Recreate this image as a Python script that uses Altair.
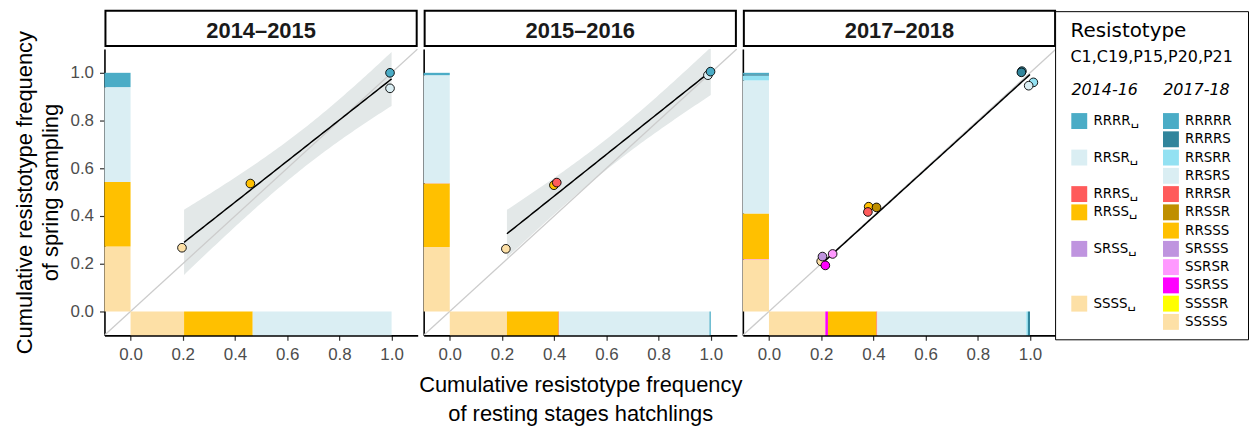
import altair as alt
import pandas as pd
import numpy as np

# ---------------- data ----------------
period_labels = ["2014–2015", "2015–2016", "2017–2018"]

# stack order from bottom (cumulative frequencies)
types_1415 = ["SSSS", "RRSS", "RRSR", "RRRR"]
hatch_cum_1415 = [0.205, 0.468, 1.0, 1.0]
spring_cum_1415 = [0.272, 0.543, 0.94, 1.0]
pt_types_1415 = ["SSSS", "RRSS", "RRSR", "RRRR"]
pt_x_1415 = [0.197, 0.459, 0.994, 0.994]
pt_y_1415 = [0.267, 0.536, 0.935, 1.0]

types_1516 = ["SSSS", "RRSS", "RRRS", "RRSR", "RRRR"]
hatch_cum_1516 = [0.219, 0.417, 0.419, 0.995, 1.0]
spring_cum_1516 = [0.27, 0.536, 0.537, 0.99, 1.0]
pt_types_1516 = ["SSSS", "RRSS", "RRRS", "RRSR", "RRRR"]
pt_x_1516 = [0.215, 0.399, 0.41, 0.989, 0.999]
pt_y_1516 = [0.2625, 0.529, 0.54, 0.99, 1.005]

types_1718 = ["SSSSS", "SSSSR", "SSRSS", "SSRSR", "SRSSS", "RRSSS",
              "RRSSR", "RRRSR", "RRSRS", "RRSRR", "RRRRS", "RRRRR"]
hatch_cum_1718 = [0.216, 0.216, 0.226, 0.226, 0.226, 0.412,
                  0.412, 0.415, 0.986, 0.992, 1.0, 1.0]
spring_cum_1718 = [0.219, 0.219, 0.22, 0.22, 0.22, 0.41,
                   0.41, 0.41, 0.968, 0.988, 0.994, 1.0]
pt_types_1718 = ["SSSSS", "SRSSS", "SSRSS", "SSRSR", "RRSSS", "RRSSR",
                 "RRRSR", "RRRRR", "RRRRS", "RRSRR", "RRSRS"]
pt_x_1718 = [0.200, 0.205, 0.216, 0.244, 0.382, 0.412,
             0.379, 0.969, 0.967, 1.013, 0.995]
pt_y_1718 = [0.210, 0.230, 0.193, 0.241, 0.439, 0.436,
             0.417, 1.007, 1.002, 0.960, 0.946]

legend_title = "Resistotype"
legend_subtitle = "C1,C19,P15,P20,P21"
legend_cols = ["2014-16", "2017-18"]
legend_left = ["RRRR", "RRSR", "RRRS", "RRSS", "SRSS", "SSSS"]
legend_left_row = ["RRRRR", "RRSRR", "RRRSR", "RRSSR", "SRSSS", "SSSSR"]
legend_right = ["RRRRR", "RRRRS", "RRSRR", "RRSRS", "RRRSR", "RRSSR",
                "RRSSS", "SRSSS", "SSRSR", "SSRSS", "SSSSR", "SSSSS"]

# ---------------- styles ----------------
color_map = {
    "RRRR": "#4BACC6", "RRSR": "#DAEEF3", "RRRS": "#FF5B5B", "RRSS": "#FFC000",
    "SRSS": "#BF94DF", "SSSS": "#FDE0A6",
    "RRRRR": "#4BACC6", "RRRRS": "#31859C", "RRSRR": "#93E1F2", "RRSRS": "#DAEEF3",
    "RRRSR": "#FF5B5B", "RRSSR": "#BF8F00", "RRSSS": "#FFC000", "SRSSS": "#BF94DF",
    "SSRSR": "#FF99FF", "SSRSS": "#FF00FF", "SSSSR": "#FFFF00", "SSSSS": "#FDE0A6",
}
c_domain = list(color_map.keys())
c_range = list(color_map.values())

T975 = {1: 12.706, 2: 4.303, 3: 3.182, 4: 2.776, 5: 2.571, 6: 2.447,
        7: 2.365, 8: 2.306, 9: 2.262, 10: 2.228, 11: 2.201, 12: 2.179}

AX = alt.Scale(domain=[-0.1, 1.1], nice=False, zero=False)
W, H = 315, 288
FONT = "Liberation Sans"
TICKS = [0, 0.2, 0.4, 0.6, 0.8, 1.0]


def fit_lm(xs, ys):
    x = np.array(xs, dtype=float)
    y = np.array(ys, dtype=float)
    n = len(x)
    b, a = np.polyfit(x, y, 1)
    grid = np.linspace(x.min(), x.max(), 80)
    pred = a + b * grid
    resid = y - (a + b * x)
    s = np.sqrt(np.sum(resid ** 2) / (n - 2))
    sxx = np.sum((x - x.mean()) ** 2)
    se = s * np.sqrt(1.0 / n + (grid - x.mean()) ** 2 / sxx)
    t = T975[n - 2]
    return pd.DataFrame({"x": grid, "fit": pred, "lo": pred - t * se, "hi": pred + t * se})


def panel(label, types, hcum, scum, ptypes, px, py, show_y, show_xtitle):
    h0 = [0.0] + hcum[:-1]
    s0 = [0.0] + scum[:-1]
    bars = pd.DataFrame({"type": types, "h0": h0, "h1": hcum, "s0": s0, "s1": scum})
    pts = pd.DataFrame({"type": ptypes, "x": px, "y": py})
    lm = fit_lm(hcum, scum)
    diag = pd.DataFrame({"x": [-0.1, 1.1], "y": [-0.1, 1.1]})
    strip = pd.DataFrame({"label": [label]})

    if show_y:
        yaxis = alt.Axis(values=TICKS, format=".1f",
                         title=["Cumulative resistotype frequency", "of spring sampling"],
                         titleLineHeight=26, titlePadding=8)
    else:
        yaxis = alt.Axis(labels=False, ticks=False, title=None)
    if show_xtitle:
        xaxis = alt.Axis(values=TICKS, format=".1f",
                         title=["Cumulative resistotype frequency", "of resting stages hatchlings"],
                         titleLineHeight=30, titlePadding=12)
    else:
        xaxis = alt.Axis(values=TICKS, format=".1f", title=None)

    color = alt.Color("type:N", scale=alt.Scale(domain=c_domain, range=c_range), legend=None)

    ribbon = alt.Chart(lm).mark_area(color="#E3E8E8", clip=True).encode(
        x=alt.X("x:Q", scale=AX, axis=xaxis),
        y=alt.Y("lo:Q", scale=AX, axis=yaxis),
        y2="hi:Q",
    )
    diag_l = alt.Chart(diag).mark_line(color="#CCCCCC", strokeWidth=1.3, clip=True).encode(
        x=alt.X("x:Q", scale=AX), y=alt.Y("y:Q", scale=AX))
    left_bar = alt.Chart(bars).mark_rect().encode(
        x=alt.datum(-0.1, scale=AX), x2=alt.datum(0),
        y=alt.Y("s0:Q", scale=AX), y2="s1:Q", color=color)
    bottom_bar = alt.Chart(bars).mark_rect().encode(
        y=alt.datum(-0.1, scale=AX), y2=alt.datum(0),
        x=alt.X("h0:Q", scale=AX), x2="h1:Q", color=color)
    line = alt.Chart(lm).mark_line(color="black", strokeWidth=1.5).encode(
        x=alt.X("x:Q", scale=AX), y=alt.Y("fit:Q", scale=AX))
    points = alt.Chart(pts).mark_circle(size=76, stroke="black", strokeWidth=0.9, opacity=1).encode(
        x=alt.X("x:Q", scale=AX), y=alt.Y("y:Q", scale=AX), color=color,
        order=alt.Order("idx:Q")).transform_window(idx="row_number()")
    strip_box = alt.Chart(strip).mark_rect(fill="white", stroke="black", strokeWidth=2).encode(
        x=alt.value(1), x2=alt.value(W - 1), y=alt.value(-38.5), y2=alt.value(-3))
    strip_txt = alt.Chart(strip).mark_text(font=FONT, fontSize=22, fontWeight="bold",
                                           color="#1A1A1A", baseline="alphabetic").encode(
        x=alt.value(W / 2), y=alt.value(-11), text="label:N")

    return alt.layer(ribbon, diag_l, left_bar, bottom_bar, line, points,
                     strip_box, strip_txt).properties(width=W, height=H)


p1 = panel(period_labels[0], types_1415, hatch_cum_1415, spring_cum_1415,
           pt_types_1415, pt_x_1415, pt_y_1415, True, False)
p2 = panel(period_labels[1], types_1516, hatch_cum_1516, spring_cum_1516,
           pt_types_1516, pt_x_1516, pt_y_1516, False, True)
p3 = panel(period_labels[2], types_1718, hatch_cum_1718, spring_cum_1718,
           pt_types_1718, pt_x_1718, pt_y_1718, False, False)

# ---------------- custom legend (coordinates relative to the plot-area top) ----------------
LW = 188
leg_items = pd.DataFrame({
    "col": [legend_cols[0]] * len(legend_left) + [legend_cols[1]] * len(legend_right),
    "type": legend_left + legend_right,
    "row": legend_left_row + legend_right,
    "label": [t + "\u2423" for t in legend_left] + legend_right,
})
leg_cols = pd.DataFrame({"col": legend_cols})
leg_titles = pd.DataFrame({"col": [legend_cols[0]]})
XS = alt.Scale(type="point", domain=legend_cols, range=[17.3, 109.5], padding=0)
YS = alt.Scale(type="point", domain=legend_right, range=[72.5, 274.5], padding=0)
lcolor = alt.Color("type:N", scale=alt.Scale(domain=c_domain, range=c_range), legend=None)
LX = alt.X("col:N", scale=XS, axis=None)

leg_box = alt.Chart(pd.DataFrame({"a": [0]})).mark_rect(
    fill="white", stroke="black", strokeWidth=1).encode(
    x=alt.value(-6.5), x2=alt.value(187.5), y=alt.value(-37.5), y2=alt.value(292.5))
leg_title = alt.Chart(leg_titles).mark_text(
    font="DejaVu Sans", fontSize=20, align="left", baseline="alphabetic", color="black",
    dx=-8.8, text=legend_title).encode(x=LX, y=alt.value(-12.5))
leg_sub = alt.Chart(leg_titles).mark_text(
    font="DejaVu Sans", fontSize=16, align="left", baseline="alphabetic", color="black",
    dx=-8.8, text=legend_subtitle).encode(x=LX, y=alt.value(13.5))
leg_heads = alt.Chart(leg_cols).mark_text(
    font="DejaVu Sans", fontSize=16, fontStyle="italic", align="left", baseline="alphabetic",
    dx=-7.8, color="black").encode(x=LX, y=alt.value(46.8), text="col:N")
leg_sw = alt.Chart(leg_items).mark_square(size=256, opacity=1, strokeWidth=0).encode(
    x=LX, y=alt.Y("row:N", scale=YS, axis=None), color=lcolor)
leg_lab = alt.Chart(leg_items).mark_text(
    font="DejaVu Sans", fontSize=13.5, align="left", baseline="middle", dx=14.2, color="black").encode(
    x=LX, y=alt.Y("row:N", scale=YS, axis=None), text="label:N")

legend = alt.layer(leg_box, leg_title, leg_sub, leg_heads, leg_sw, leg_lab).properties(
    width=LW, height=H)

chart = alt.hconcat(p1, p2, p3, legend, spacing=6, bounds="flush").properties(
    padding={"left": 5, "top": 0, "right": 0, "bottom": 0}
).configure_view(stroke=None).configure_axis(
    grid=False,
    labelFont=FONT, labelFontSize=17, labelColor="#4D4D4D", labelPadding=6,
    tickColor="#333333", tickSize=5, tickWidth=1.2,
    domainColor="black", domainWidth=1.6,
    titleFont=FONT, titleFontSize=22, titleColor="black", titleFontWeight="normal",
)

chart.save("out.html", embed_options={"renderer": "svg", "actions": False})
